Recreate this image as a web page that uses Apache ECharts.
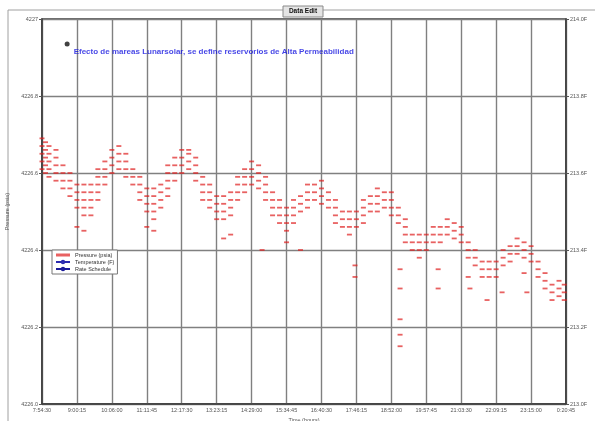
<!DOCTYPE html>
<html><head><meta charset="utf-8">
<script src="https://cdn.jsdelivr.net/npm/echarts@6/dist/echarts.min.js"></script>
<style>html,body{margin:0;padding:0;background:#fff}#c{width:595px;height:421px}</style>
</head><body><div id="c"></div>
<script>
const chartTitle = "Data Edit";
const noteText = "Efecto de mareas Lunarsolar, se define reservorios de Alta Permeabilidad";
const timeLabels = ["7:54:30","9:00:15","10:06:00","11:11:45","12:17:30","13:23:15","14:29:00","15:34:45","16:40:30","17:46:15","18:52:00","19:57:45","21:03:30","22:09:15","23:15:00","0:20:45"];
const pressureTicks = ["4226.0","4226.2","4226.4","4226.6","4226.8","4227"];
const tempTicks = ["213.0F","213.2F","213.4F","213.6F","213.8F","214.0F"];
const seriesNames = ["Pressure (psia)","Temperature (F)","Rate Schedule"];
// each row: [time index, pressure readings...]
const pressureByTime = [
[0.0,4226.69,4226.67,4226.65,4226.63,4226.61],
[0.1,4226.68,4226.66,4226.64,4226.62,4226.60],
[0.2,4226.67,4226.65,4226.63,4226.61,4226.59],
[0.4,4226.66,4226.64,4226.62,4226.60,4226.58],
[0.6,4226.62,4226.60,4226.58,4226.56],
[0.8,4226.60,4226.58,4226.56,4226.54],
[1.0,4226.57,4226.55,4226.53,4226.51,4226.46],
[1.2,4226.57,4226.55,4226.53,4226.51,4226.49,4226.45],
[1.4,4226.57,4226.55,4226.53,4226.51,4226.49],
[1.6,4226.61,4226.59,4226.57,4226.55,4226.53],
[1.8,4226.63,4226.61,4226.59,4226.57],
[2.0,4226.66,4226.64,4226.62,4226.60],
[2.2,4226.67,4226.65,4226.63,4226.61],
[2.4,4226.65,4226.63,4226.61,4226.59],
[2.6,4226.61,4226.59,4226.57],
[2.8,4226.59,4226.57,4226.55,4226.53],
[3.0,4226.56,4226.54,4226.52,4226.50,4226.46],
[3.2,4226.56,4226.54,4226.52,4226.50,4226.48,4226.45],
[3.4,4226.57,4226.55,4226.53,4226.51],
[3.6,4226.62,4226.60,4226.58,4226.56,4226.54],
[3.8,4226.64,4226.62,4226.60,4226.58],
[4.0,4226.66,4226.64,4226.62,4226.60],
[4.2,4226.66,4226.65,4226.63,4226.61],
[4.4,4226.64,4226.62,4226.60,4226.58],
[4.6,4226.59,4226.57,4226.55,4226.53],
[4.8,4226.57,4226.55,4226.53,4226.51],
[5.0,4226.54,4226.52,4226.50,4226.48],
[5.2,4226.54,4226.52,4226.50,4226.48,4226.43],
[5.4,4226.55,4226.53,4226.51,4226.49,4226.44],
[5.6,4226.59,4226.57,4226.55,4226.53],
[5.8,4226.61,4226.59,4226.57,4226.55],
[6.0,4226.63,4226.61,4226.59,4226.57],
[6.2,4226.62,4226.60,4226.58,4226.56],
[6.3,4226.40],
[6.4,4226.59,4226.57,4226.55,4226.53],
[6.6,4226.55,4226.53,4226.51,4226.49],
[6.8,4226.53,4226.51,4226.49,4226.47],
[7.0,4226.51,4226.49,4226.47,4226.45,4226.42],
[7.2,4226.53,4226.51,4226.49,4226.47],
[7.4,4226.54,4226.52,4226.50,4226.40],
[7.6,4226.57,4226.55,4226.53,4226.51],
[7.8,4226.57,4226.55,4226.53],
[8.0,4226.58,4226.56,4226.54,4226.52],
[8.2,4226.55,4226.53,4226.51],
[8.4,4226.53,4226.51,4226.49,4226.47],
[8.6,4226.50,4226.48,4226.46],
[8.8,4226.50,4226.48,4226.46,4226.44],
[8.96,4226.36,4226.33],
[9.0,4226.50,4226.48,4226.46],
[9.2,4226.53,4226.51,4226.49,4226.47],
[9.4,4226.54,4226.52,4226.50],
[9.6,4226.56,4226.54,4226.52,4226.50],
[9.8,4226.55,4226.53,4226.51],
[10.0,4226.55,4226.53,4226.51,4226.49],
[10.2,4226.51,4226.49,4226.47],
[10.25,4226.35,4226.30,4226.22,4226.18,4226.15],
[10.4,4226.48,4226.46,4226.44,4226.42],
[10.6,4226.44,4226.42,4226.40],
[10.8,4226.44,4226.42,4226.40,4226.38],
[11.0,4226.44,4226.42,4226.40],
[11.2,4226.46,4226.44,4226.42],
[11.34,4226.35,4226.30],
[11.4,4226.46,4226.44,4226.42],
[11.6,4226.48,4226.46,4226.44],
[11.8,4226.47,4226.45,4226.43],
[12.0,4226.46,4226.44,4226.42],
[12.2,4226.42,4226.40,4226.38,4226.33],
[12.25,4226.30],
[12.4,4226.40,4226.38,4226.36],
[12.6,4226.37,4226.35,4226.33],
[12.74,4226.27],
[12.8,4226.37,4226.35,4226.33],
[13.0,4226.37,4226.35,4226.33],
[13.17,4226.29],
[13.2,4226.40,4226.38,4226.36],
[13.4,4226.41,4226.39,4226.37],
[13.6,4226.43,4226.41,4226.39],
[13.8,4226.42,4226.40,4226.38,4226.34],
[13.88,4226.29],
[14.0,4226.41,4226.39,4226.37],
[14.2,4226.37,4226.35,4226.33],
[14.4,4226.34,4226.32,4226.30],
[14.6,4226.31,4226.29,4226.27],
[14.8,4226.32,4226.30,4226.28],
[14.95,4226.31,4226.29,4226.27]
];
const notePoint = [0.72, 4226.935];

const pressureData = [];
pressureByTime.forEach(r => { for (let i = 1; i < r.length; i++) pressureData.push([r[0], r[i]]); });

const small = {fontFamily:'Liberation Sans', fontSize:5.5, color:'#555'};
const chart = echarts.init(document.getElementById('c'), null, {renderer:'canvas'});
chart.setOption({
  animation:false,
  backgroundColor:'#fff',
  grid:{left:42,right:29,top:19,bottom:17,outerBoundsMode:'none',containLabel:false,show:true,borderColor:'#3a3a3a',borderWidth:1.5},
  graphic:[
    {type:'rect',shape:{x:8,y:10,width:600,height:420},style:{fill:'none',stroke:'#a0a0a0',lineWidth:1},z:0,silent:true},
    {type:'rect',shape:{x:283,y:6,width:40,height:11},style:{fill:'#e4e4e4',stroke:'#8a8a8a',lineWidth:1},z:10},
    {type:'text',x:303,y:11.5,style:{text:chartTitle,fontFamily:'Liberation Sans',fontSize:6.5,fontWeight:'bold',fill:'#111',align:'center',verticalAlign:'middle'},z:11}
  ],
  legend:{
    left:52,top:250,orient:'vertical',itemGap:1,itemWidth:14,itemHeight:3,
    padding:[2,3,2,3],borderColor:'#777',borderWidth:1,backgroundColor:'#fff',
    textStyle:{fontFamily:'Liberation Sans',fontSize:5.5,color:'#333'},
    data:[{name:seriesNames[0],icon:'rect'},{name:seriesNames[1]},{name:seriesNames[2]}]
  },
  xAxis:{
    type:'value',min:0,max:15,interval:1,
    name:'Time (hours)',nameLocation:'middle',nameGap:9,nameTextStyle:small,
    axisLine:{show:true,lineStyle:{color:'#3a3a3a',width:1.5}},
    axisTick:{show:false},
    axisLabel:Object.assign({margin:3,formatter:v=>timeLabels[Math.round(v)]||''},small),
    splitLine:{show:true,lineStyle:{color:'#808080',width:1.4}}
  },
  yAxis:[{
    type:'value',min:4226,max:4227,interval:0.2,
    name:'Pressure (psia)',nameLocation:'middle',nameGap:28,nameTextStyle:small,
    axisLine:{show:true,lineStyle:{color:'#3a3a3a',width:1.5}},
    axisTick:{show:true,length:3,lineStyle:{color:'#555'}},
    axisLabel:Object.assign({margin:4,formatter:v=>pressureTicks[Math.round((v-4226)/0.2)]||''},small),
    splitLine:{show:true,lineStyle:{color:'#808080',width:1.4}}
  },{
    type:'value',min:213,max:214,interval:0.2,position:'right',
    name:'Temperature (F)',nameLocation:'middle',nameGap:22,nameTextStyle:small,
    axisLine:{show:true,lineStyle:{color:'#3a3a3a',width:1.5}},
    axisTick:{show:true,length:3,lineStyle:{color:'#555'}},
    axisLabel:Object.assign({margin:4,formatter:v=>tempTicks[Math.round((v-213)/0.2)]||''},small),
    splitLine:{show:false}
  }],
  series:[
    {name:seriesNames[0],type:'scatter',data:pressureData,symbol:'rect',symbolSize:[5,1.8],
     itemStyle:{color:'rgba(222,30,30,0.88)'},z:3},
    {name:seriesNames[1],type:'line',data:[],yAxisIndex:1,showSymbol:false,lineStyle:{color:'#2a2ab0',width:1},itemStyle:{color:'#2a2ab0'}},
    {name:seriesNames[2],type:'line',data:[],showSymbol:false,lineStyle:{color:'#1a1a9a',width:2},itemStyle:{color:'#1a1a9a'}},
    {name:'note',type:'scatter',data:[notePoint],symbol:'circle',symbolSize:5,itemStyle:{color:'#111'},
     label:{show:true,position:'right',distance:4,offset:[0,8],formatter:noteText,
       fontFamily:'Liberation Sans',fontSize:8,fontWeight:'bold',color:'#1414e0'},z:5}
  ]
});
</script></body></html>
